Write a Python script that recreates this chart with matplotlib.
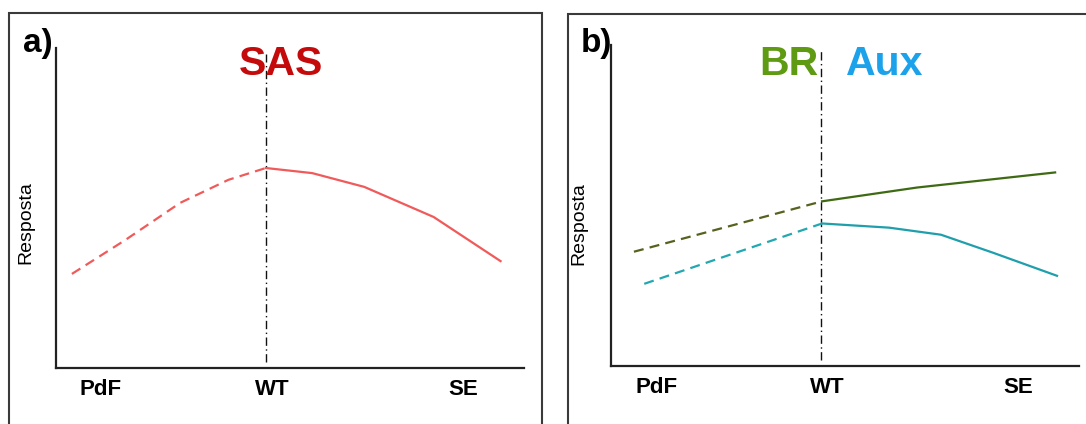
import numpy as np
import matplotlib.pyplot as plt
from matplotlib.patches import Rectangle

plt.rcParams['font.family'] = ['Liberation Sans', 'DejaVu Sans']

# x categories along the bottom axis
categories = ['PdF', 'WT', 'SE']
cat_pos = [0.97, 4.62, 8.70]
wt_x = 4.49

# panel a: SAS response
sas_dash_x = [0.35, 1.49, 2.66, 3.69, 4.49]
sas_dash_y = [2.94, 4.00, 5.16, 5.88, 6.25]
sas_solid_x = [4.49, 5.48, 6.59, 8.07, 9.50]
sas_solid_y = [6.25, 6.09, 5.66, 4.72, 3.34]

# panel b: BR and Aux responses
br_dash_x = [0.49, 4.51]
br_dash_y = [3.56, 5.13]
br_solid_x = [4.51, 6.54, 9.49]
br_solid_y = [5.13, 5.56, 6.03]

aux_dash_x = [0.71, 4.51]
aux_dash_y = [2.56, 4.44]
aux_solid_x = [4.51, 5.94, 7.05, 8.16, 9.53]
aux_solid_y = [4.44, 4.31, 4.09, 3.53, 2.81]

W, H = 1086, 424
fig = plt.figure(figsize=(W / 100, H / 100), dpi=100)


def fx(px):
    return px / W


def fy(py):
    return 1 - py / H


# outer frames of the two panels (bottom cut off)
fig.patches.append(Rectangle((fx(9), -0.2), fx(542) - fx(9), fy(13) + 0.2,
                             transform=fig.transFigure, fill=False,
                             edgecolor='#3a3a3a', lw=1.5, clip_on=False))
fig.patches.append(Rectangle((fx(568), -0.2), 1.0, fy(14) + 0.2,
                             transform=fig.transFigure, fill=False,
                             edgecolor='#3a3a3a', lw=1.5, clip_on=False))

ax1 = fig.add_axes([fx(55.5), fy(368), 468.5 / W, 320 / H])
ax2 = fig.add_axes([fx(611), fy(366), 468 / W, 321 / H])

for ax in (ax1, ax2):
    ax.set_xlim(0, 10)
    ax.set_ylim(0, 10)
    ax.spines['top'].set_visible(False)
    ax.spines['right'].set_visible(False)
    for s in ('left', 'bottom'):
        ax.spines[s].set_linewidth(1.6)
        ax.spines[s].set_color('#222222')
    ax.set_yticks([])
    ax.set_xticks(cat_pos)
    ax.set_xticklabels(categories, fontsize=16, fontweight='bold')
    ax.tick_params(axis='x', length=0, pad=8)
    ax.set_facecolor('none')
    ax.axvline(wt_x, ymin=0.02, ymax=0.98, color='#111111', lw=1.0,
               linestyle=(0, (6, 2.5, 1, 2.5)))
    ax.set_ylabel('Resposta', fontsize=14)

ax1.yaxis.set_label_coords(-0.045, 0.453)
ax2.yaxis.set_label_coords(-0.05, 0.445)

# panel a
ax1.plot(sas_dash_x, sas_dash_y, color='#f05a5a', lw=1.6, linestyle=(0, (4.5, 2.8)))
ax1.plot(sas_solid_x, sas_solid_y, color='#f05a5a', lw=1.6)

# panel b
ax2.plot(br_dash_x, br_dash_y, color='#56621e', lw=1.6, linestyle=(0, (4.5, 2.8)))
ax2.plot(br_solid_x, br_solid_y, color='#3f6a14', lw=1.6)
ax2.plot(aux_dash_x, aux_dash_y, color='#22a8b0', lw=1.6, linestyle=(0, (4.5, 2.8)))
ax2.plot(aux_solid_x, aux_solid_y, color='#1f9fab', lw=1.6)

# titles and panel letters
fig.text(fx(281.5), fy(75), 'SAS', color='#c40a0a', fontsize=29.5,
         fontweight='bold', ha='center', va='baseline')
fig.text(fx(818), fy(75), 'BR', color='#5e9a12', fontsize=29.5,
         fontweight='bold', ha='right', va='baseline')
fig.text(fx(846), fy(75), 'Aux', color='#1ba2ea', fontsize=29.5,
         fontweight='bold', ha='left', va='baseline')
fig.text(fx(22.5), fy(52), 'a)', fontsize=24, fontweight='bold',
         ha='left', va='baseline')
fig.text(fx(581), fy(52), 'b)', fontsize=24, fontweight='bold',
         ha='left', va='baseline')

plt.savefig('out.png', dpi=100)
